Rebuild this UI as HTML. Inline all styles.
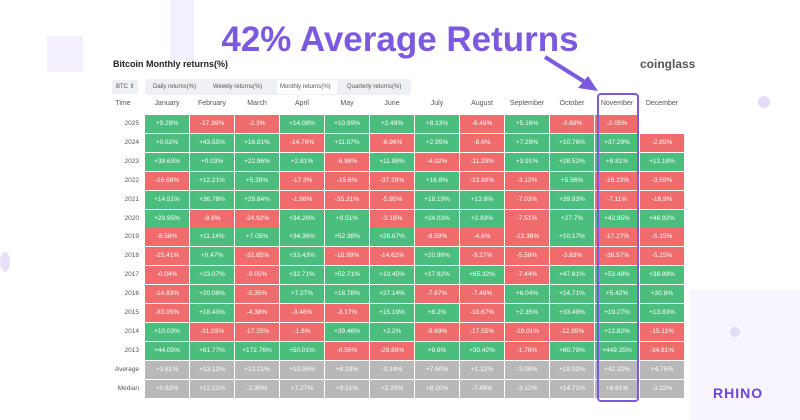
<!DOCTYPE html>
<html><head><meta charset="utf-8"><style>
body{margin:0;width:800px;height:420px;background:#fff;position:relative;overflow:hidden;font-family:"Liberation Sans",sans-serif}
.a{position:absolute}
.sq{position:absolute;background:#f4effd}
.c{position:absolute;width:44px;height:18px;color:#fff;font-size:6.5px;text-align:center;line-height:18px}
.g{background:#4bbd7d}.r{background:#f06c6c}.n{background:#b8b8b8}
.h{position:absolute;font-size:7px;color:#555;text-align:center;width:44px}
.y{position:absolute;font-size:6.5px;color:#555;text-align:right;width:34px}
</style></head><body>
<div class="sq" style="left:47px;top:36px;width:36px;height:36px"></div>
<div class="sq" style="left:170px;top:0px;width:24px;height:60px"></div>
<div class="sq" style="left:690px;top:290px;width:110px;height:130px;background:#f8f5fe"></div>
<div class="a" style="left:758px;top:96px;width:12px;height:12px;border-radius:50%;background:#e3dbf7"></div>
<div class="a" style="left:730px;top:327px;width:10px;height:10px;border-radius:50%;background:#e3dbf7"></div>
<div class="a" style="left:0;top:252px;width:10px;height:20px;border-radius:50%;background:#e8e0f8"></div>
<div class="a" style="left:200px;top:18px;width:400px;text-align:center;font-size:35px;font-weight:bold;color:#7b5ae0;line-height:44px">42% Average Returns</div>
<svg class="a" style="left:0;top:0" width="800" height="420"><line x1="545" y1="57" x2="588" y2="84" stroke="#7b5ae0" stroke-width="4"/><polygon points="598,91 578,88 588,76" fill="#7b5ae0"/></svg>
<div class="a" style="left:113px;top:59px;font-size:9px;font-weight:bold;color:#222">Bitcoin Monthly returns(%)</div>
<div class="a" style="left:640px;top:57px;font-size:12px;font-weight:bold;color:#555">coinglass</div>
<div class="a" style="left:112px;top:80px;width:26px;height:14px;background:#eef0f3;border-radius:2px;font-size:6px;color:#555;line-height:14px;text-indent:4px">BTC ⇕</div>
<div class="a" style="left:145px;top:79px;width:266px;height:16px;background:#eef0f3;border-radius:3px"></div>
<div class="a" style="left:277px;top:80px;width:60px;height:14px;background:#fff;border-radius:2px"></div>
<div class="a" style="left:153px;top:84px;font-size:6px;color:#555">Daily returns(%)</div>
<div class="a" style="left:213px;top:84px;font-size:6px;color:#555">Weekly returns(%)</div>
<div class="a" style="left:280px;top:84px;font-size:6px;color:#555">Monthly returns(%)</div>
<div class="a" style="left:347px;top:84px;font-size:6px;color:#555">Quarterly returns(%)</div>
<div class="a" style="left:597px;top:93px;width:38px;height:305px;border:2px solid #7b5ae0;border-radius:4px;z-index:5"></div>
<div id="t"></div>
<script>
var m=["January","February","March","April","May","June","July","August","September","October","November","December"];
var d=[["2025","+9.29%","-17.39%","-2.3%","+14.08%","+10.99%","+2.49%","+8.13%","-6.49%","+5.16%","-3.69%","-2.05%",""],
["2024","+0.62%","+43.55%","+16.81%","-14.76%","+11.07%","-6.96%","+2.95%","-8.6%","+7.29%","+10.76%","+37.29%","-2.85%"],
["2023","+39.63%","+0.03%","+22.96%","+2.81%","-6.98%","+11.98%","-4.02%","-11.29%","+3.91%","+28.52%","+8.81%","+12.18%"],
["2022","-16.68%","+12.21%","+5.39%","-17.3%","-15.6%","-37.28%","+16.8%","-13.88%","-3.12%","+5.56%","-16.23%","-3.59%"],
["2021","+14.51%","+36.78%","+29.84%","-1.98%","-35.31%","-5.95%","+18.19%","+13.8%","-7.03%","+39.93%","-7.11%","-18.9%"],
["2020","+29.95%","-8.6%","-24.92%","+34.26%","+9.51%","-3.18%","+24.03%","+2.83%","-7.51%","+27.7%","+42.95%","+46.92%"],
["2019","-8.58%","+11.14%","+7.05%","+34.36%","+52.38%","+26.67%","-6.59%","-4.6%","-13.38%","+10.17%","-17.27%","-5.15%"],
["2018","-25.41%","+0.47%","-32.85%","+33.43%","-18.99%","-14.62%","+20.96%","-9.27%","-5.58%","-3.83%","-36.57%","-5.15%"],
["2017","-0.04%","+23.07%","-9.05%","+32.71%","+52.71%","+10.45%","+17.92%","+65.32%","-7.44%","+47.81%","+53.48%","+38.89%"],
["2016","-14.83%","+20.08%","-5.35%","+7.27%","+18.78%","+27.14%","-7.67%","-7.49%","+6.04%","+14.71%","+5.42%","+30.8%"],
["2015","-33.05%","+18.43%","-4.38%","-3.46%","-3.17%","+15.19%","+8.2%","-18.67%","+2.35%","+33.49%","+19.27%","+13.83%"],
["2014","+10.03%","-31.03%","-17.25%","-1.6%","+39.46%","+2.2%","-9.69%","-17.55%","-19.01%","-12.95%","+12.82%","-15.11%"],
["2013","+44.05%","+61.77%","+172.76%","+50.01%","-8.56%","-29.89%","+9.6%","+30.42%","-1.76%","+60.79%","+449.35%","-34.81%"],
["Average","+3.81%","+13.12%","+12.21%","+13.06%","+8.18%","-0.14%","+7.60%","+1.12%","-3.08%","+19.92%","+42.32%","+4.75%"],
["Median","+0.62%","+12.21%","-2.30%","+7.27%","+9.51%","+2.20%","+8.20%","-7.49%","-3.12%","+14.71%","+8.81%","-3.22%"]];
var h='<div class="y" style="left:106px;top:100px;text-align:center;font-size:7px">Time</div>';
m.forEach(function(x,i){h+='<div class="h" style="left:'+(145+i*45)+'px;top:100px">'+x+'</div>'});
d.forEach(function(r,j){var t=115+j*18.9;h+='<div class="y" style="left:105px;top:'+(t+5)+'px">'+r[0]+'</div>';
for(var i=1;i<13;i++){if(!r[i])continue;var k=j>12?'n':(r[i][0]=='+'?'g':'r');h+='<div class="c '+k+'" style="left:'+(145+(i-1)*45)+'px;top:'+t+'px">'+r[i]+'</div>'}});
document.getElementById('t').innerHTML=h;
</script>
<div class="a" style="left:713px;top:385px;font-size:14px;font-weight:bold;color:#6a45d8;letter-spacing:1px">RHINO</div>
</body></html>
